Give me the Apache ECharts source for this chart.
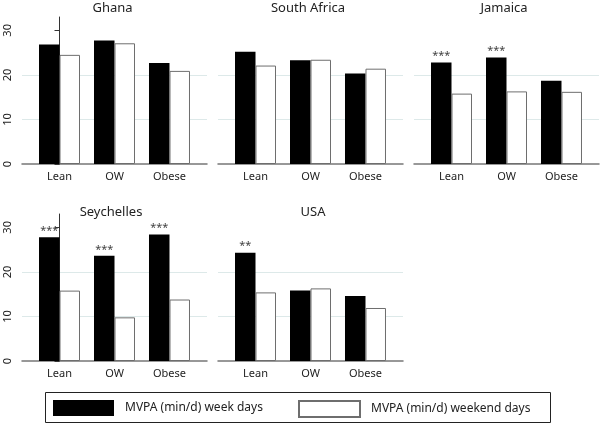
<!DOCTYPE html>
<html>
<head>
<meta charset="utf-8">
<script src="https://cdn.jsdelivr.net/npm/echarts@6/dist/echarts.min.js"></script>
<style>
html,body{margin:0;padding:0;background:#fff;}
#chart{width:600px;height:424px;}
</style>
</head>
<body>
<div id="chart"></div>
<script>
const categories = ['Lean', 'OW', 'Obese'];
const countries = ['Ghana', 'South Africa', 'Jamaica', 'Seychelles', 'USA'];
const seriesNames = ['MVPA (min/d) week days', 'MVPA (min/d) weekend days'];
const yTicks = [0, 10, 20, 30];

const ghanaWeek = [26.8, 27.7, 22.7];
const ghanaWeekend = [24.5, 27.1, 20.9];
const southAfricaWeek = [25.2, 23.3, 20.3];
const southAfricaWeekend = [22.1, 23.4, 21.4];
const jamaicaWeek = [22.8, 23.9, 18.7];
const jamaicaWeekend = [15.8, 16.3, 16.2];
const seychellesWeek = [27.8, 23.6, 28.4];
const seychellesWeekend = [15.8, 9.8, 13.8];
const usaWeek = [24.3, 15.8, 14.6];
const usaWeekend = [15.4, 16.3, 11.9];

const ghanaStars = ['', '', ''];
const southAfricaStars = ['', '', ''];
const jamaicaStars = ['***', '***', ''];
const seychellesStars = ['***', '***', '***'];
const usaStars = ['**', '', ''];

const weekData = [ghanaWeek, southAfricaWeek, jamaicaWeek, seychellesWeek, usaWeek];
const weekendData = [ghanaWeekend, southAfricaWeekend, jamaicaWeekend, seychellesWeekend, usaWeekend];
const starData = [ghanaStars, southAfricaStars, jamaicaStars, seychellesStars, usaStars];

// layout
const FONT = 'Noto Sans';
const panelBoxes = [
  {left: 22, top: 17}, {left: 218, top: 17}, {left: 414, top: 17},
  {left: 22, top: 214}, {left: 218, top: 214}
];
const titleCenters = [[112.5, 8.5], [308, 8.5], [504, 8.5], [111, 212], [313, 212]];
const PW = 185, PH = 147;

const grids = [], xAxes = [], yAxes = [], series = [], graphics = [];
countries.forEach((name, i) => {
  const b = panelBoxes[i];
  const showY = (i === 0 || i === 3);
  grids.push({left: b.left, top: b.top, width: PW, height: PH, containLabel: false});
  xAxes.push({
    type: 'value', gridIndex: i, min: -0.682, max: 2.682,
    axisLine: {show: true, onZero: false, lineStyle: {color: '#777', width: 1.5}},
    axisTick: {show: false},
    splitLine: {show: false},
    axisLabel: {
      show: true, customValues: [0, 1, 2], margin: 7,
      formatter: v => categories[Math.round(v)] || '',
      fontFamily: FONT, fontSize: 11, color: '#222'
    }
  });
  yAxes.push({
    type: 'value', gridIndex: i, min: 0, max: 33, interval: 10,
    axisLine: {show: showY, lineStyle: {color: '#333', width: 1}},
    axisTick: {show: showY, length: 5, customValues: yTicks, lineStyle: {color: '#333'}},
    axisLabel: {
      show: showY, customValues: yTicks, rotate: 90, margin: 9,
      fontFamily: FONT, fontSize: 11, color: '#222'
    },
    splitLine: {show: true, showMinLine: false, showMaxLine: false, lineStyle: {color: '#dde9e9', width: 1}}
  });
  const stars = starData[i];
  series.push({
    type: 'bar', name: seriesNames[0], xAxisIndex: i, yAxisIndex: i,
    barWidth: 20.5, barGap: '0%',
    itemStyle: {color: '#000', borderColor: '#000', borderWidth: 0},
    label: {
      show: true, position: 'top', distance: 1,
      formatter: p => stars[p.dataIndex],
      fontFamily: FONT, fontSize: 11, color: '#444'
    },
    data: weekData[i].map((v, j) => [j, v])
  });
  series.push({
    type: 'bar', name: seriesNames[1], xAxisIndex: i, yAxisIndex: i,
    barWidth: 20.5, barGap: '0%',
    itemStyle: {color: '#fff', borderColor: '#6e6e6e', borderWidth: 1},
    data: weekendData[i].map((v, j) => [j, v])
  });
  graphics.push({
    type: 'text', x: titleCenters[i][0], y: titleCenters[i][1],
    style: {text: name, align: 'center', verticalAlign: 'middle',
      font: '13px "' + FONT + '"', fill: '#222'}
  });
});

graphics.push({
  type: 'rect', shape: {x: 45.5, y: 392.5, width: 505, height: 30},
  style: {fill: 'none', stroke: '#222', lineWidth: 1}
});

const legendCommon = {
  orient: 'horizontal', top: 400, padding: 0, itemWidth: 61, itemHeight: 16,
  icon: 'rect', selectedMode: false,
  textStyle: {fontFamily: FONT, fontSize: 12, color: '#222', padding: [0, 0, 0, 6]}
};

const chart = echarts.init(document.getElementById('chart'), null, {renderer: 'canvas'});
chart.setOption({
  animation: false,
  backgroundColor: '#fff',
  textStyle: {fontFamily: FONT},
  grid: grids,
  xAxis: xAxes,
  yAxis: yAxes,
  legend: [
    Object.assign({}, legendCommon, {left: 53, data: [seriesNames[0]]}),
    Object.assign({}, legendCommon, {left: 298, data: [seriesNames[1]]})
  ],
  graphic: graphics,
  series: series
});
</script>
</body>
</html>
